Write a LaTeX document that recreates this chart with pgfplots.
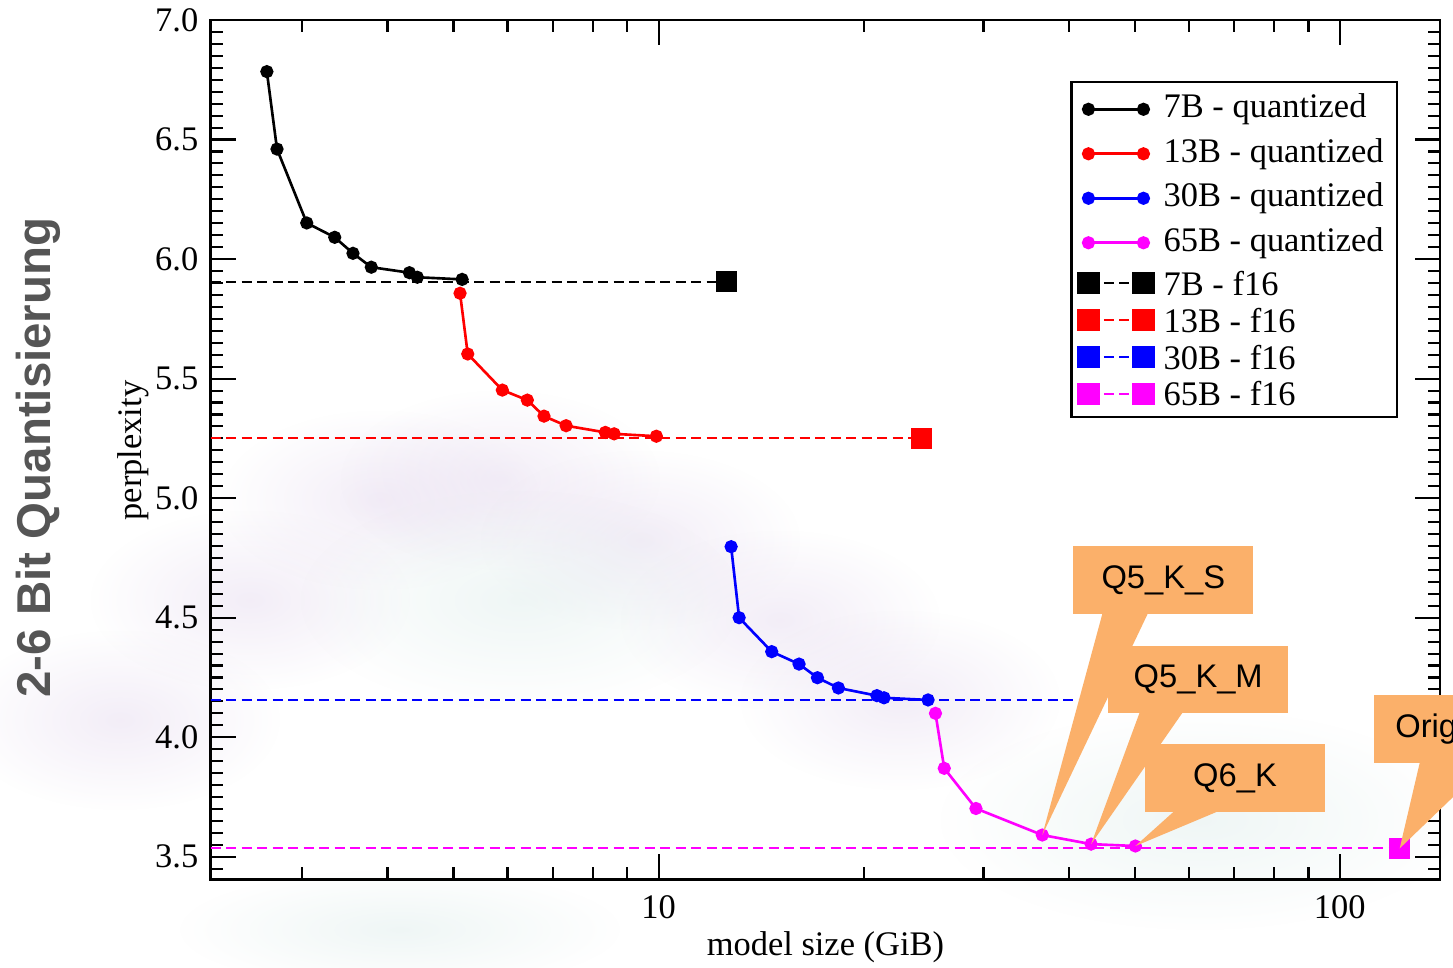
\documentclass[border=0pt]{standalone}
\usepackage{fontspec}
\setmainfont{Liberation Serif}
\newfontfamily\sansfont{Liberation Sans}
\usepackage{pgfplots}
\pgfplotsset{compat=1.18}
\usetikzlibrary{fadings}
\definecolor{callout}{RGB}{251,176,106}
\definecolor{titlegray}{RGB}{85,85,85}
\definecolor{mag}{RGB}{255,0,255}
\definecolor{red}{RGB}{255,0,0}
\definecolor{blue}{RGB}{0,0,255}
\definecolor{lav}{RGB}{228,216,238}
\definecolor{teal2}{RGB}{220,236,234}
\tikzfading[name=soft, inner color=transparent!55, outer color=transparent!100]
\newcommand{\serifsize}{\fontsize{9.8}{11.5}\selectfont}
\newcommand{\calloutsize}{\sansfont\fontsize{9.3}{11}\selectfont}

\pgfplotstableread{
x y
2.660 6.784
2.753 6.460
3.044 6.151
3.346 6.091
3.559 6.024
3.787 5.966
4.307 5.943
4.424 5.924
5.147 5.915
}\qsevenb
\pgfplotstableread{
x y
5.111 5.857
5.246 5.603
5.897 5.452
6.417 5.410
6.789 5.343
7.316 5.303
8.354 5.275
8.605 5.269
9.926 5.259
}\qthirteenb
\pgfplotstableread{
x y
12.78 4.797
13.13 4.500
14.66 4.358
16.08 4.306
17.11 4.249
18.37 4.206
20.92 4.174
21.43 4.165
24.87 4.156
}\qthirtyb
\pgfplotstableread{
x y
25.50 4.100
26.27 3.870
29.24 3.702
36.60 3.591
43.16 3.553
50.13 3.545
}\qsixtyfiveb

\begin{document}
\begin{tikzpicture}
\useasboundingbox (-21.07mm,-8.85mm) rectangle (124.23mm,87.95mm);
\clip (-21.07mm,-8.85mm) rectangle (124.23mm,87.95mm);
\fill[white] (-21.07mm,-8.85mm) rectangle (124.23mm,87.95mm);
% faint background swirls
\foreach \cx/\cy in {-9.07/15.95, 3.93/27.95, 16.93/37.95, 28.93/39.95, 42.93/33.95, 56.93/25.95, 68.93/17.95}{
  \fill[lav, path fading=soft] (\cx mm,\cy mm) ellipse (16mm and 9mm);
}
\fill[teal2, path fading=soft] (30.93mm,27.95mm) ellipse (22mm and 11mm);
\fill[teal2, path fading=soft] (98.93mm,5.95mm) ellipse (26mm and 11mm);
\fill[teal2, path fading=soft] (18.9mm,-5mm) ellipse (22mm and 6mm);
\begin{axis}[
  at={(0,0)}, anchor=south west,
  scale only axis, width=122.93mm, height=85.95mm,
  xmode=log, log basis x=10,
  xmin=2.2, xmax=140.4, ymin=3.405, ymax=7.0,
  xtick={10,100}, xticklabels={10,100},
  minor xtick={3,4,5,6,7,8,9,20,30,40,50,60,70,80,90},
  ytick={3.5,4.0,4.5,5.0,5.5,6.0,6.5,7.0},
  minor ytick={3.45,3.50,...,7.0},
  tick align=inside,
  major tick length=2.5mm, minor tick length=1.2mm,
  every tick/.style={black, line width=0.6pt},
  axis line style={black, line width=0.8pt},
  /pgf/number format/assume math mode=true,
  yticklabel style={/pgf/number format/.cd, fixed, fixed zerofill, precision=1},
  tick label style={font=\serifsize},
  xticklabel style={yshift=-0.4mm},
  legend style={at={(1,1)}, anchor=north east, xshift=-4.2mm, yshift=-6.1mm,
    draw=black, line width=0.6pt, inner xsep=0.7mm, inner ysep=0.5mm,
    row sep=0pt, column sep=0.4mm, font=\serifsize, nodes={inner sep=1.78pt}},
  legend cell align=left,
  legend image code/.code={\draw[#1] plot coordinates {(0mm,0mm) (5.5mm,0mm)};},
]
% f16 reference lines
\addplot[black, line width=0.6pt, dash pattern=on 1mm off 0.55mm, forget plot] coordinates {(2.2,5.905) (12.59,5.905)};
\addplot[red, line width=0.6pt, dash pattern=on 1mm off 0.55mm, forget plot] coordinates {(2.2,5.250) (24.30,5.250)};
\addplot[blue, line width=0.6pt, dash pattern=on 1mm off 0.55mm, forget plot] coordinates {(2.2,4.156) (60.6,4.156)};
\addplot[mag, line width=0.6pt, dash pattern=on 1mm off 0.55mm, forget plot] coordinates {(2.2,3.535) (122.5,3.535)};
% quantized
\addplot[black, line width=0.75pt, mark=*, mark size=1.5pt] table[x=x,y=y] {\qsevenb};
\addlegendentry[text height=6.9pt, text depth=2.2pt]{7B - quantized}
\addplot[red, line width=0.75pt, mark=*, mark size=1.5pt] table[x=x,y=y] {\qthirteenb};
\addlegendentry[text height=6.9pt, text depth=2.2pt]{13B - quantized}
\addplot[blue, line width=0.75pt, mark=*, mark size=1.5pt] table[x=x,y=y] {\qthirtyb};
\addlegendentry[text height=6.9pt, text depth=2.2pt]{30B - quantized}
\addplot[mag, line width=0.75pt, mark=*, mark size=1.5pt] table[x=x,y=y] {\qsixtyfiveb};
\addlegendentry[text height=6.9pt, text depth=2.2pt]{65B - quantized}
% f16 marks
\addplot[black, only marks, mark=square*, mark size=1mm, forget plot] coordinates {(12.59,5.905)};
\addplot[red, only marks, mark=square*, mark size=1mm, forget plot] coordinates {(24.30,5.250)};
\addplot[blue, only marks, mark=square*, mark size=1mm, forget plot] coordinates {(60.6,4.156)};
\addplot[mag, only marks, mark=square*, mark size=1mm, forget plot] coordinates {(122.5,3.535)};
\addlegendimage{black, line width=0.6pt, dash pattern=on 1mm off 0.55mm, mark=square*, mark size=1mm, mark options={solid}}
\addlegendentry[text height=6.9pt, text depth=0pt]{7B - f16}
\addlegendimage{red, line width=0.6pt, dash pattern=on 1mm off 0.55mm, mark=square*, mark size=1mm, mark options={solid}}
\addlegendentry[text height=6.9pt, text depth=0pt]{13B - f16}
\addlegendimage{blue, line width=0.6pt, dash pattern=on 1mm off 0.55mm, mark=square*, mark size=1mm, mark options={solid}}
\addlegendentry[text height=6.9pt, text depth=0pt]{30B - f16}
\addlegendimage{mag, line width=0.6pt, dash pattern=on 1mm off 0.55mm, mark=square*, mark size=1mm, mark options={solid}}
\addlegendentry[text height=6.9pt, text depth=0pt]{65B - f16}
\coordinate (tipS) at (axis cs:36.60,3.591);
\coordinate (tipM) at (axis cs:43.16,3.553);
\coordinate (tipK) at (axis cs:50.13,3.545);
\coordinate (tipO) at (axis cs:122.5,3.535);
\end{axis}
% axis labels
\node[font=\serifsize] at (61.47mm,-6.75mm) {model size (GiB)};
\node[font=\serifsize, rotate=90] at (-7.77mm,42.9mm) {perplexity};
% title
\node[rotate=90, anchor=base, text=titlegray, font=\sansfont\bfseries\fontsize{13.5}{15}\selectfont] at (-16.0mm,42.2mm) {2-6 Bit Quantisierung};
% callouts
\fill[callout] (86.26mm,26.52mm) rectangle (104.26mm,33.35mm);
\fill[callout] (89.2mm,26.7mm) -- (93.76mm,26.7mm) -- (tipS) -- cycle;
\node[font=\calloutsize] at (95.26mm,29.94mm) {Q5\_K\_S};
\fill[callout] (89.73mm,16.62mm) rectangle (107.76mm,23.38mm);
\fill[callout] (92.93mm,16.8mm) -- (97.26mm,16.8mm) -- (tipM) -- cycle;
\node[font=\calloutsize] at (98.75mm,20.0mm) {Q5\_K\_M};
\fill[callout] (93.43mm,6.72mm) rectangle (111.43mm,13.52mm);
\fill[callout] (96.43mm,6.9mm) -- (100.93mm,6.9mm) -- (tipK) -- cycle;
\node[font=\calloutsize] at (102.43mm,10.12mm) {Q6\_K};
\fill[callout] (116.36mm,11.62mm) rectangle (134.36mm,18.45mm);
\fill[callout] (120.93mm,11.8mm) -- (127.93mm,11.8mm) -- (tipO) -- cycle;
\node[font=\calloutsize] at (124.1mm,15.03mm) {Original};
\end{tikzpicture}
\end{document}
